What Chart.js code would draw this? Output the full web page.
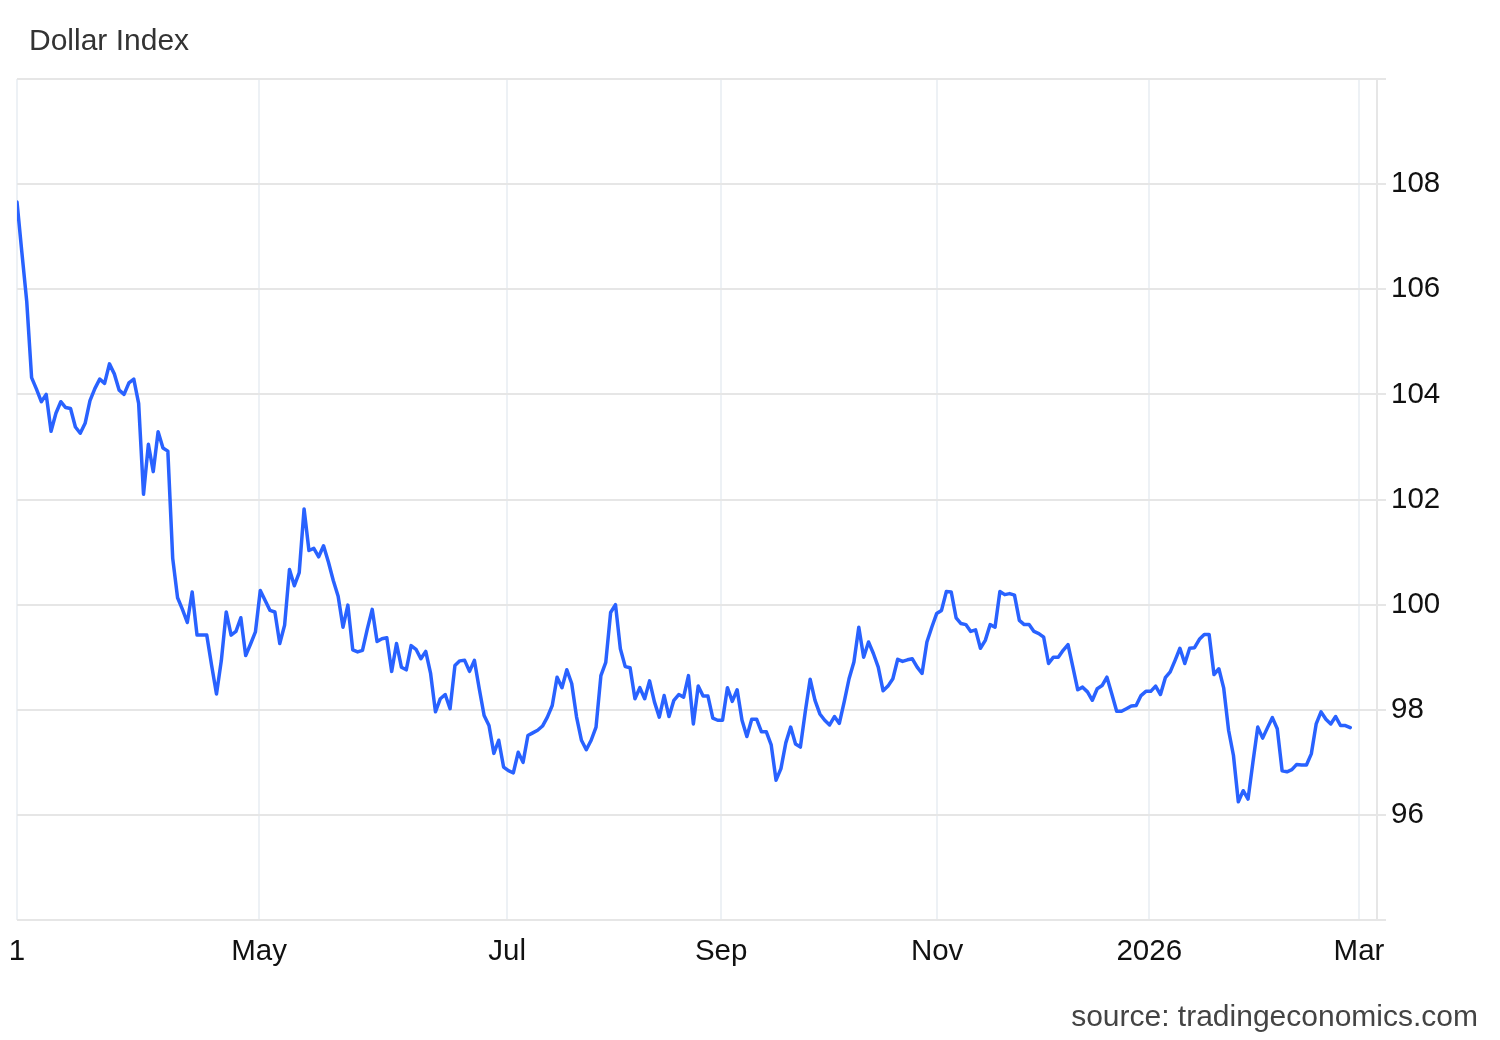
<!DOCTYPE html>
<html>
<head>
<meta charset="utf-8">
<script src="https://cdn.jsdelivr.net/npm/chart.js@4.4.1/dist/chart.umd.min.js"></script>
<style>
  html, body { margin: 0; padding: 0; background: #ffffff; }
  #wrap { position: relative; width: 1500px; height: 1040px; }
  #chart { position: absolute; left: 0; top: 0; }
  .txt { position: absolute; font-family: "Liberation Sans", Arial, sans-serif; font-size: 30px; line-height: 36px; white-space: nowrap; }
  #title { left: 29px; top: 22px; color: #333333; }
  #source { right: 22px; top: 998px; color: #444444; }
</style>
</head>
<body>
<div id="wrap">
  <canvas id="chart" width="1500" height="1040"></canvas>
  <div id="title" class="txt">Dollar Index</div>
  <div id="source" class="txt">source: tradingeconomics.com</div>
</div>
<script>
// Dollar Index daily closes (one value per trading session)
const dxy = [
  107.66, 106.7, 105.77, 104.32, 104.1, 103.86, 104.0, 103.30, 103.64, 103.86,
  103.75, 103.73, 103.38, 103.26, 103.45, 103.88, 104.11, 104.29, 104.21, 104.58,
  104.39, 104.08, 104.0, 104.22, 104.29, 103.83, 102.10, 103.05, 102.53, 103.29,
  102.98, 102.92, 100.88, 100.13, 99.91, 99.66, 100.24, 99.42, 99.42, 99.42,
  98.84, 98.30, 98.94, 99.86, 99.42, 99.49, 99.75, 99.03, 99.25, 99.48,
  100.27, 100.08, 99.89, 99.86, 99.26, 99.61, 100.67, 100.36, 100.61, 101.82,
  101.03, 101.07, 100.91, 101.12, 100.81, 100.46, 100.16, 99.57, 99.99, 99.14,
  99.10, 99.13, 99.54, 99.91, 99.30, 99.35, 99.37, 98.73, 99.26, 98.81,
  98.76, 99.22, 99.15, 98.97, 99.11, 98.69, 97.96, 98.21, 98.29, 98.02,
  98.84, 98.93, 98.94, 98.73, 98.94, 98.40, 97.89, 97.70, 97.17, 97.42,
  96.91, 96.84, 96.80, 97.19, 97.00, 97.51, 97.56, 97.61, 97.69, 97.86,
  98.08, 98.62, 98.42, 98.76, 98.50, 97.86, 97.42, 97.24, 97.42, 97.67,
  98.65, 98.90, 99.85, 100.0, 99.16, 98.82, 98.80, 98.21, 98.42, 98.21,
  98.55, 98.15, 97.86, 98.27, 97.87, 98.18, 98.29, 98.24, 98.65, 97.73,
  98.45, 98.26, 98.26, 97.84, 97.80, 97.80, 98.42, 98.16, 98.38, 97.80,
  97.49, 97.82, 97.82, 97.58, 97.58, 97.33, 96.66, 96.88, 97.37, 97.67,
  97.35, 97.29, 97.96, 98.58, 98.18, 97.92, 97.80, 97.71, 97.87, 97.74,
  98.15, 98.59, 98.91, 99.57, 99.00, 99.29, 99.07, 98.81, 98.36, 98.45,
  98.59, 98.96, 98.92, 98.95, 98.97, 98.81, 98.69, 99.29, 99.57, 99.83,
  99.89, 100.25, 100.24, 99.75, 99.64, 99.62, 99.49, 99.52, 99.17, 99.32,
  99.62, 99.57, 100.25, 100.19, 100.21, 100.18, 99.70, 99.62, 99.62, 99.49,
  99.45, 99.38, 98.88, 99.00, 99.00, 99.13, 99.24, 98.81, 98.38, 98.43,
  98.34, 98.18, 98.40, 98.46, 98.62, 98.30, 97.97, 97.97, 98.02, 98.07,
  98.08, 98.27, 98.35, 98.35, 98.45, 98.29, 98.61, 98.72, 98.94, 99.17,
  98.88, 99.17, 99.18, 99.34, 99.43, 99.43, 98.67, 98.78, 98.41, 97.61,
  97.13, 96.25, 96.46, 96.30, 97.00, 97.67, 97.46, 97.66, 97.85, 97.64,
  96.84, 96.82, 96.86, 96.96, 96.95, 96.95, 97.16, 97.73, 97.96, 97.82,
  97.73, 97.87, 97.70, 97.70, 97.66
];

// Month tick labels and their position on the session axis
const tickLabels = ["1", "May", "Jul", "Sep", "Nov", "2026", "Mar"];
const tickPos    = [0, 49.74, 100.72, 144.71, 189.1, 232.7, 275.8];
const xMax = 279.5;

// Value axis ticks
const yTicks = [94, 96, 98, 100, 102, 104, 106, 108, 110];
const yLabelled = [96, 98, 100, 102, 104, 106, 108];

const points = dxy.map((v, i) => ({ x: i, y: v }));
const FONT = "'Liberation Sans', Arial, sans-serif";

new Chart(document.getElementById('chart'), {
  type: 'line',
  data: {
    datasets: [{
      label: 'Dollar Index',
      data: points,
      borderColor: '#2962ff',
      borderWidth: 3.5,
      borderJoinStyle: 'round',
      borderCapStyle: 'round',
      pointRadius: 0,
      tension: 0,
      fill: false
    }]
  },
  options: {
    responsive: false,
    animation: false,
    events: [],
    layout: { padding: { left: 17, top: 79, right: 0, bottom: 0 } },
    plugins: {
      legend: { display: false },
      tooltip: { enabled: false },
      title: { display: false }
    },
    scales: {
      x: {
        type: 'linear',
        min: 0,
        max: xMax,
        afterBuildTicks: (scale) => { scale.ticks = tickPos.map(v => ({ value: v })); },
        afterFit: (scale) => {
          scale.height = 120;
          scale.paddingLeft = 0;
          scale.paddingRight = 0;
        },
        grid: { color: '#edf1f5', lineWidth: 2, drawTicks: false },
        border: { display: false },
        ticks: {
          autoSkip: false,
          maxRotation: 0,
          padding: 14,
          color: '#111111',
          font: { family: FONT, size: 29.5 },
          callback: (value) => {
            const k = tickPos.indexOf(value);
            return k >= 0 ? tickLabels[k] : '';
          }
        }
      },
      y: {
        type: 'linear',
        position: 'right',
        min: 94,
        max: 110,
        afterBuildTicks: (scale) => { scale.ticks = yTicks.map(v => ({ value: v })); },
        afterFit: (scale) => {
          scale.width = 123;
          scale.paddingTop = 0;
          scale.paddingBottom = 0;
        },
        grid: { color: '#e6e6e6', lineWidth: 2, tickLength: 9, drawTicks: true },
        border: { display: true, color: '#e6e6e6', width: 2 },
        ticks: {
          padding: 5,
          color: '#111111',
          font: { family: FONT, size: 29.5 },
          callback: (value) => yLabelled.includes(value) ? String(value) : ''
        }
      }
    }
  }
});
</script>
</body>
</html>
